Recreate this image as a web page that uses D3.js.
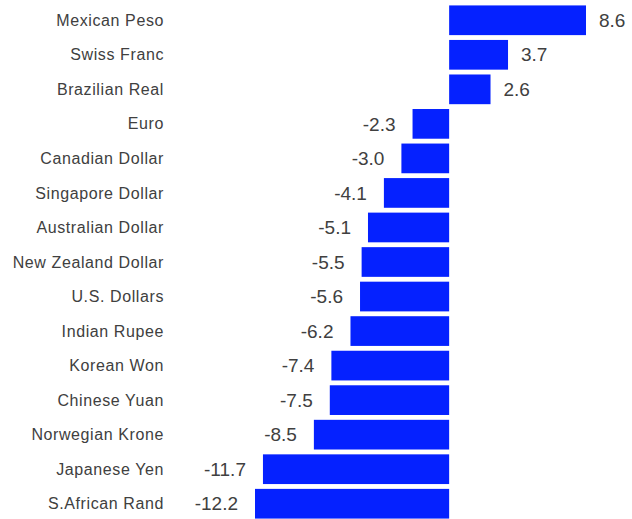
<html>
<head>
    <script src="https://d3js.org/d3.v7.min.js"></script>
</head>
<style>
    body { margin: 0; background: #fff; }
    .bar { fill: #0521ff; }
    .cat { font-family: "Liberation Sans", Arial, sans-serif; font-size: 16px; fill: #404040; letter-spacing: 0.6px; }
    .val { font-family: "Liberation Sans", Arial, sans-serif; font-size: 19px; fill: #404040; }
</style>
<body>
<svg width="632" height="519"></svg>
<script>

    var currencies = ["Mexican Peso", "Swiss Franc", "Brazilian Real", "Euro", "Canadian Dollar",
        "Singapore Dollar", "Australian Dollar", "New Zealand Dollar", "U.S. Dollars", "Indian Rupee",
        "Korean Won", "Chinese Yuan", "Norwegian Krone", "Japanese Yen", "S.African Rand"];
    var changes = [8.6, 3.7, 2.6, -2.3, -3.0, -4.1, -5.1, -5.5, -5.6, -6.2, -7.4, -7.5, -8.5, -11.7, -12.2];

    var data = currencies.map(function(c, i) { return { name: c, value: changes[i] }; });

    var svg = d3.select("svg");

    var xScale = d3.scaleLinear().domain([-12.2, 8.6]).range([255, 586]),
        yScale = d3.scaleBand().domain(currencies).range([3, 521]).paddingInner(0.14).paddingOuter(0.07);

    svg.selectAll(".bar")
       .data(data)
       .enter().append("rect")
       .attr("class", "bar")
       .attr("x", function(d) { return xScale(Math.min(0, d.value)); })
       .attr("y", function(d) { return yScale(d.name); })
       .attr("width", function(d) { return Math.abs(xScale(d.value) - xScale(0)); })
       .attr("height", yScale.bandwidth());

    // category labels
    svg.selectAll(".cat")
       .data(data)
       .enter().append("text")
       .attr("class", "cat")
       .attr("x", 164)
       .attr("y", function(d) { return yScale(d.name) + yScale.bandwidth() / 2; })
       .attr("dy", "0.35em")
       .attr("text-anchor", "end")
       .text(function(d) { return d.name; });

    // value labels
    svg.selectAll(".val")
       .data(data)
       .enter().append("text")
       .attr("class", "val")
       .attr("x", function(d) { return d.value >= 0 ? xScale(d.value) + 13 : xScale(d.value) - 17; })
       .attr("y", function(d) { return yScale(d.name) + yScale.bandwidth() / 2; })
       .attr("dy", "0.35em")
       .attr("text-anchor", function(d) { return d.value >= 0 ? "start" : "end"; })
       .text(function(d) { return d.value.toFixed(1); });
</script>
</body>
</html>
